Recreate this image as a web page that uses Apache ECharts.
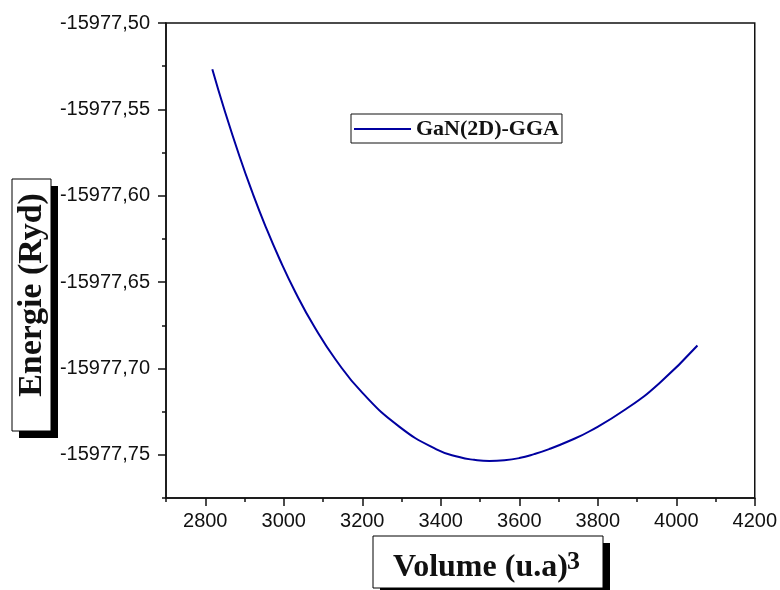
<!DOCTYPE html>
<html>
<head>
<meta charset="utf-8">
<script src="https://cdn.jsdelivr.net/npm/echarts@6/dist/echarts.min.js"></script>
<style>
  html, body { margin: 0; padding: 0; background: #fff; }
  #chart { width: 780px; height: 590px; }
</style>
</head>
<body>
<div id="chart"></div>
<script>
// Energy-volume curve for GaN (2D), GGA
const seriesName = 'GaN(2D)-GGA';
const volume = [2818, 2849, 2887, 2920, 2953, 2989, 3030, 3078, 3132, 3200, 3295, 3389, 3447, 3485, 3524, 3562, 3600, 3638, 3676, 3727, 3778, 3872, 3957, 4054];
const energy = [-15977.5268, -15977.5504, -15977.5770, -15977.5981, -15977.6174, -15977.6365, -15977.6560, -15977.6759, -15977.6948, -15977.7140, -15977.7338, -15977.7468, -15977.7513, -15977.7529, -15977.7536, -15977.7532, -15977.7519, -15977.7496, -15977.7467, -15977.7420, -15977.7365, -15977.7235, -15977.7085, -15977.6867];

// axis ticks
const xMajorTicks = [2800, 3000, 3200, 3400, 3600, 3800, 4000, 4200];
const yMajorTicks = [-15977.75, -15977.70, -15977.65, -15977.60, -15977.55, -15977.50];
const xMin = 2700, xMax = 4200, xMinorStep = 100;
const yMin = -15977.775, yMax = -15977.50, yMinorStep = 0.025;

const yTitle = 'Energie (Ryd)';
const xTitle = 'Volume (u.a)';
const xTitleSup = '3';

const points = volume.map((v, i) => [v, energy[i]]);

const tickFont = { fontFamily: 'Liberation Sans', fontSize: 20, color: '#111' };
const serif = 'Liberation Serif';
const ink = '#111';
const curveColor = '#0000a0';

const chart = echarts.init(document.getElementById('chart'), null, { renderer: 'canvas' });

chart.setOption({
  animation: false,
  backgroundColor: '#fff',
  grid: {
    left: 166, top: 23, width: 590, height: 475,
    show: true, borderColor: ink, borderWidth: 1.5, backgroundColor: 'transparent'
  },
  legend: {
    left: 351, top: 114,
    orient: 'horizontal',
    padding: [4, 3, 3, 3],
    icon: 'rect',
    itemWidth: 57, itemHeight: 2,
    borderColor: ink, borderWidth: 1,
    textStyle: { fontFamily: serif, fontWeight: 'bold', fontSize: 22, color: ink },
    data: [seriesName]
  },
  xAxis: [
    {
      type: 'value', min: xMin, max: xMax, interval: xMinorStep,
      position: 'bottom',
      axisLine: { show: true, lineStyle: { color: ink, width: 1.5 } },
      axisTick: { show: true, inside: false, length: 4, lineStyle: { color: ink, width: 1.5 } },
      axisLabel: { show: false },
      splitLine: { show: false }
    },
    {
      type: 'value', min: xMin, max: xMax,
      position: 'bottom',
      axisLine: { show: false },
      axisTick: { show: true, inside: false, length: 8, customValues: xMajorTicks, lineStyle: { color: ink, width: 1.5 } },
      axisLabel: { show: true, margin: 13, customValues: xMajorTicks, ...tickFont, formatter: v => String(Math.round(v)) },
      splitLine: { show: false }
    }
  ],
  yAxis: [
    {
      type: 'value', min: yMin, max: yMax, interval: yMinorStep,
      position: 'left',
      axisLine: { show: true, lineStyle: { color: ink, width: 1.5 } },
      axisTick: { show: true, inside: false, length: 4, lineStyle: { color: ink, width: 1.5 } },
      axisLabel: { show: false },
      splitLine: { show: false }
    },
    {
      type: 'value', min: yMin, max: yMax,
      position: 'left',
      axisLine: { show: false },
      axisTick: { show: true, inside: false, length: 8, customValues: yMajorTicks, lineStyle: { color: ink, width: 1.5 } },
      axisLabel: { show: true, margin: 16, customValues: yMajorTicks, ...tickFont, formatter: v => v.toFixed(2).replace('.', ',') },
      splitLine: { show: false }
    }
  ],
  series: [
    {
      name: seriesName,
      type: 'line',
      xAxisIndex: 0, yAxisIndex: 0,
      data: points,
      smooth: 0.5,
      symbol: 'none',
      lineStyle: { color: curveColor, width: 2 },
      itemStyle: { color: curveColor }
    }
  ],
  graphic: [
    // y-axis title box with drop shadow
    { type: 'rect', z: 10, shape: { x: 19, y: 186, width: 39, height: 252 }, style: { fill: '#000' } },
    { type: 'rect', z: 11, shape: { x: 12, y: 179, width: 39, height: 252 }, style: { fill: '#fff', stroke: '#000', lineWidth: 1 } },
    {
      type: 'text', z: 12, x: 32, y: 295, rotation: Math.PI / 2,
      style: { text: yTitle, fontFamily: serif, fontWeight: 'bold', fontSize: 34, fill: ink, align: 'center', verticalAlign: 'middle' }
    },
    // x-axis title box with drop shadow
    { type: 'rect', z: 10, shape: { x: 380, y: 543, width: 230, height: 52 }, style: { fill: '#000' } },
    { type: 'rect', z: 11, shape: { x: 373, y: 536, width: 230, height: 52 }, style: { fill: '#fff', stroke: '#000', lineWidth: 1 } },
    {
      type: 'text', z: 12, x: 393, y: 568,
      style: { text: xTitle, fontFamily: serif, fontWeight: 'bold', fontSize: 32, fill: ink, align: 'left', verticalAlign: 'middle' }
    },
    {
      type: 'text', z: 12, x: 567, y: 562,
      style: { text: xTitleSup, fontFamily: serif, fontWeight: 'bold', fontSize: 26, fill: ink, align: 'left', verticalAlign: 'middle' }
    }
  ]
});
</script>
</body>
</html>
